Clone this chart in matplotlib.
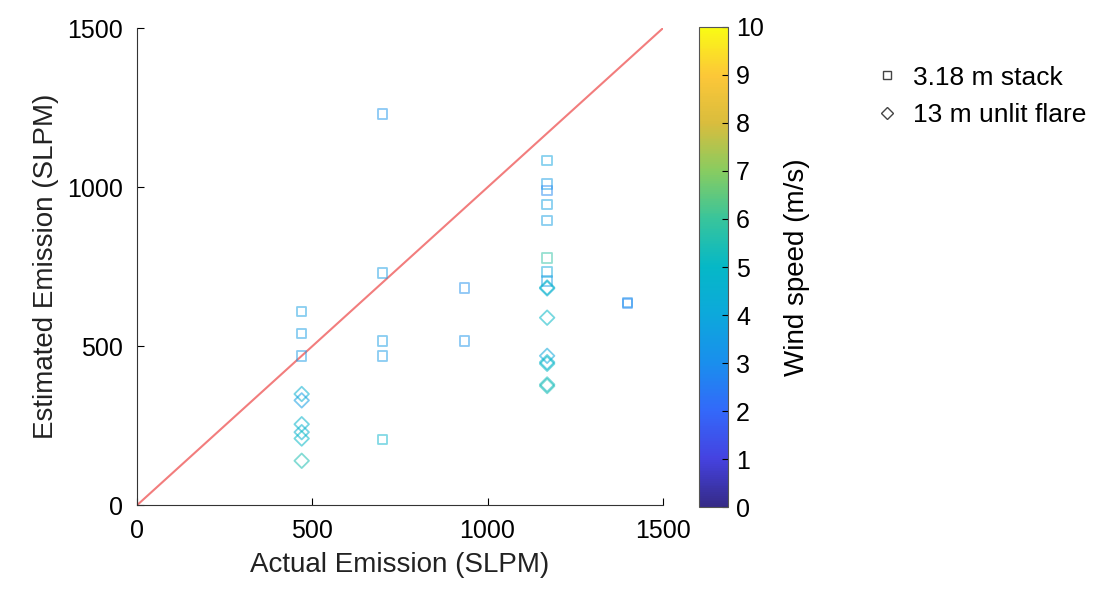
import matplotlib
matplotlib.use("Agg")
import matplotlib.pyplot as plt
import numpy as np
from matplotlib.colors import LinearSegmentedColormap
from matplotlib.lines import Line2D

plt.rcParams["font.family"] = ["Liberation Sans", "DejaVu Sans"]

# 3.18 m stack (squares)
stack_x = [470, 470, 470, 700, 700, 700, 700, 700, 935, 935,
           1170, 1170, 1170, 1170, 1170, 1170, 1170, 1170, 1400, 1400]
stack_y = [610, 540, 470, 1230, 730, 517, 470, 207, 683, 517,
           1085, 1010, 990, 945, 895, 778, 734, 705, 635, 637]
stack_ws = [3.6, 3.5, 3.4, 3.2, 3.5, 3.5, 3.4, 4.8, 3.0, 3.2,
            3.8, 3.5, 2.8, 3.7, 3.6, 5.8, 4.0, 3.5, 2.8, 3.0]

# 13 m unlit flare (diamonds)
flare_x = [470, 470, 470, 470, 470, 470,
           1170, 1170, 1170, 1170, 1170, 1170, 1170, 1170]
flare_y = [350, 330, 255, 230, 210, 140,
           685, 682, 590, 470, 450, 445, 380, 375]
flare_ws = [4.5, 3.6, 4.8, 4.6, 5.0, 5.5,
            4.8, 4.5, 5.0, 4.0, 4.7, 5.0, 5.2, 5.4]

# approximate MATLAB parula
parula = LinearSegmentedColormap.from_list("parula", [
    (0.0, (0.208, 0.166, 0.529)),
    (0.1, (0.270, 0.260, 0.880)),
    (0.2, (0.200, 0.410, 0.980)),
    (0.3, (0.100, 0.560, 0.930)),
    (0.4, (0.050, 0.660, 0.860)),
    (0.5, (0.020, 0.720, 0.780)),
    (0.6, (0.220, 0.770, 0.610)),
    (0.7, (0.530, 0.800, 0.380)),
    (0.8, (0.850, 0.740, 0.240)),
    (0.9, (0.990, 0.780, 0.220)),
    (1.0, (0.977, 0.984, 0.081)),
])

fig = plt.figure(figsize=(11.04, 5.98), dpi=100)
ax = fig.add_axes([0.124, 0.155, 0.4764, 0.7977])

ax.plot([0, 1500], [0, 1500], color="#f27d7d", lw=1.5, zorder=1)

norm = plt.Normalize(0, 10)
ax.scatter(stack_x, stack_y, marker="s", s=45, facecolors="none",
           edgecolors=parula(norm(stack_ws)), linewidths=1.3, alpha=0.5,
           zorder=2)
ax.scatter(flare_x, flare_y, marker="D", s=55, facecolors="none",
           edgecolors=parula(norm(flare_ws)), linewidths=1.3, alpha=0.55,
           zorder=2)

ax.set_xlim(0, 1500)
ax.set_ylim(0, 1500)
ax.set_xticks([0, 500, 1000, 1500])
ax.set_yticks([0, 500, 1000, 1500])
ax.tick_params(direction="in", labelsize=18, length=5, pad=10)
ax.spines["top"].set_visible(False)
ax.spines["right"].set_visible(False)
for s in ["left", "bottom"]:
    ax.spines[s].set_color("#333333")
ax.set_xlabel("Actual Emission (SLPM)", fontsize=20, color="#222222", labelpad=6)
ax.set_ylabel("Estimated Emission (SLPM)", fontsize=20, color="#222222", labelpad=6)

cax = fig.add_axes([0.633, 0.152, 0.0263, 0.803])
sm = plt.cm.ScalarMappable(norm=norm, cmap=parula)
cb = fig.colorbar(sm, cax=cax)
cb.set_ticks(range(0, 11))
cb.ax.tick_params(direction="in", labelsize=18, length=4, pad=6)
cb.outline.set_edgecolor("#555555")
cb.set_label("Wind speed (m/s)", fontsize=20, labelpad=14)

handles = [
    Line2D([], [], marker="s", ls="none", mfc="none", mec="#444444", ms=6),
    Line2D([], [], marker="D", ls="none", mfc="none", mec="#444444", ms=6),
]
fig.legend(handles, ["3.18 m stack", "13 m unlit flare"], loc="upper left",
           bbox_to_anchor=(0.77, 0.93), frameon=False, fontsize=19,
           handlelength=1.0, handletextpad=0.5, labelspacing=0.5)

fig.savefig("out.png", dpi=100)
